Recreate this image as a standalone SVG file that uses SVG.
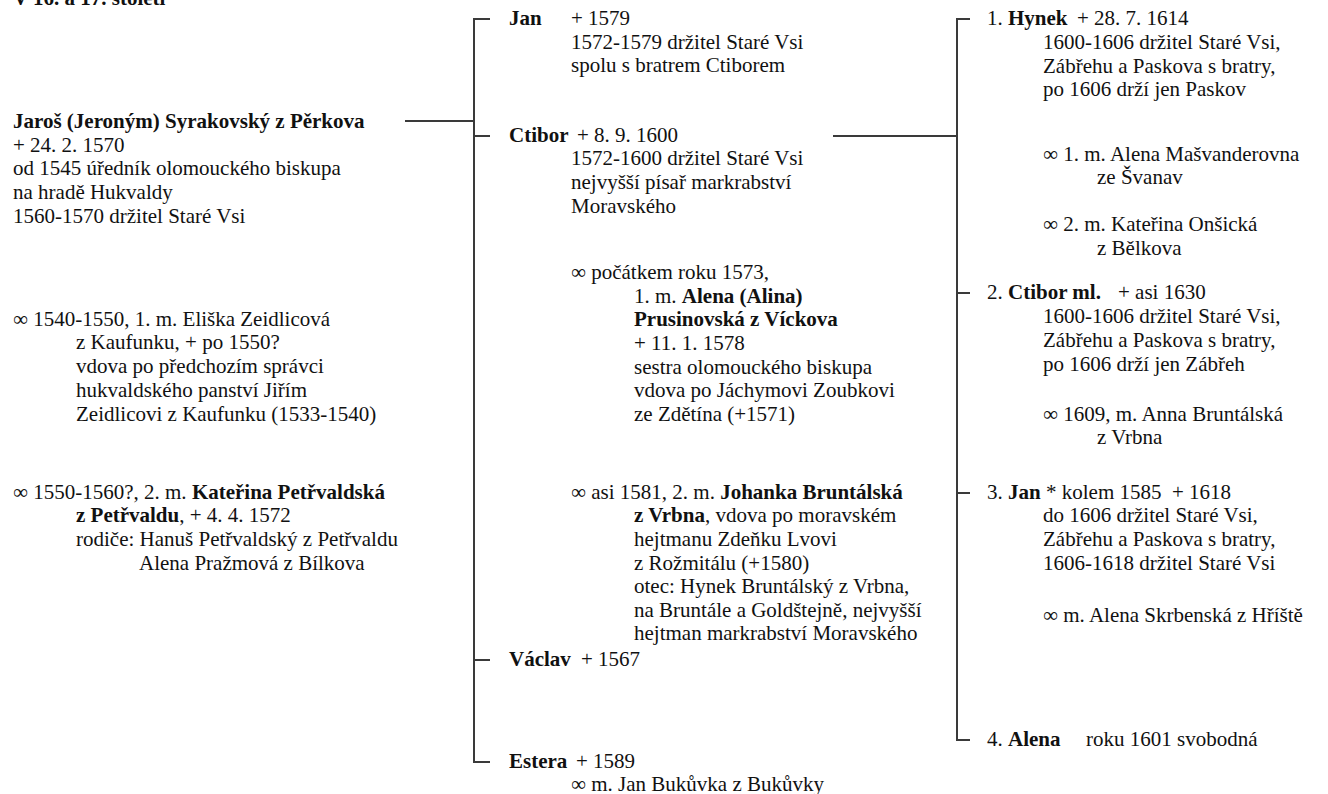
<svg xmlns="http://www.w3.org/2000/svg" width="1328" height="794" viewBox="0 0 1328 794">
<style>
text{font-family:"Liberation Serif","Times New Roman",serif;font-size:21px;fill:#111;}
.b{font-weight:bold;}
.ln{stroke:#3a3a3a;stroke-width:2;fill:none;}
</style>
<rect width="1328" height="794" fill="#fff"/>
<g id="title"><text x="13" y="5" class="b">V 16. a 17. století</text></g>

<g id="connectors">
<path class="ln" d="M405,121 H474"/>
<path class="ln" d="M490,19 H474 V762 H490"/>
<path class="ln" d="M474,136 H490"/>
<path class="ln" d="M474,660 H490"/>
<path class="ln" d="M833,136 H957"/>
<path class="ln" d="M970,19 H957 V740 H970"/>
<path class="ln" d="M957,293 H970"/>
<path class="ln" d="M957,493 H970"/>
</g>

<g id="jaros">
<text x="13" y="128" class="b">Jaroš (Jeroným) Syrakovský z Pěrkova</text>
<text x="13" y="152">+ 24. 2. 1570</text>
<text x="13" y="175">od 1545 úředník olomouckého biskupa</text>
<text x="13" y="199">na hradě Hukvaldy</text>
<text x="13" y="223">1560-1570 držitel Staré Vsi</text>
</g>
<g id="eliska">
<text x="13" y="326">∞ 1540-1550, 1. m. Eliška Zeidlicová</text>
<text x="76" y="349">z Kaufunku, + po 1550?</text>
<text x="76" y="373">vdova po předchozím správci</text>
<text x="76" y="397">hukvaldského panství Jiřím</text>
<text x="76" y="421">Zeidlicovi z Kaufunku (1533-1540)</text>
</g>
<g id="katerina">
<text x="13" y="499">∞ 1550-1560?, 2. m. <tspan class="b">Kateřina Petřvaldská</tspan></text>
<text x="76" y="522"><tspan class="b">z Petřvaldu</tspan>, + 4. 4. 1572</text>
<text x="76" y="546">rodiče: Hanuš Petřvaldský z Petřvaldu</text>
<text x="139" y="570">Alena Pražmová z Bílkova</text>
</g>

<g id="jan">
<text x="509" y="25" class="b">Jan</text>
<text x="571" y="25">+ 1579</text>
<text x="571" y="49">1572-1579 držitel Staré Vsi</text>
<text x="571" y="72">spolu s bratrem Ctiborem</text>
</g>
<g id="ctibor">
<text x="509" y="142" class="b">Ctibor</text>
<text x="577" y="142">+ 8. 9. 1600</text>
<text x="571" y="165">1572-1600 držitel Staré Vsi</text>
<text x="571" y="189">nejvyšší písař markrabství</text>
<text x="571" y="213">Moravského</text>
<text x="571" y="279">∞ počátkem roku 1573,</text>
<text x="634" y="303">1. m. <tspan class="b">Alena (Alina)</tspan></text>
<text x="634" y="326" class="b">Prusinovská z Víckova</text>
<text x="634" y="350">+ 11. 1. 1578</text>
<text x="634" y="374">sestra olomouckého biskupa</text>
<text x="634" y="397">vdova po Jáchymovi Zoubkovi</text>
<text x="634" y="421">ze Zdětína (+1571)</text>
<text x="571" y="499">∞ asi 1581, 2. m. <tspan class="b">Johanka Bruntálská</tspan></text>
<text x="634" y="522"><tspan class="b">z Vrbna</tspan>, vdova po moravském</text>
<text x="634" y="546">hejtmanu Zdeňku Lvovi</text>
<text x="634" y="570">z Rožmitálu (+1580)</text>
<text x="634" y="593">otec: Hynek Bruntálský z Vrbna,</text>
<text x="634" y="617">na Bruntále a Goldštejně, nejvyšší</text>
<text x="634" y="640">hejtman markrabství Moravského</text>
</g>
<g id="vaclav">
<text x="509" y="666" class="b">Václav</text>
<text x="581" y="666">+ 1567</text>
</g>
<g id="estera">
<text x="509" y="768" class="b">Estera</text>
<text x="576" y="768">+ 1589</text>
<text x="571" y="791">∞ m. Jan Bukůvka z Bukůvky</text>
</g>

<g id="hynek">
<text x="987" y="25">1. <tspan class="b">Hynek</tspan></text>
<text x="1077" y="25">+ 28. 7. 1614</text>
<text x="1043" y="49">1600-1606 držitel Staré Vsi,</text>
<text x="1043" y="73">Zábřehu a Paskova s bratry,</text>
<text x="1043" y="96">po 1606 drží jen Paskov</text>
<text x="1043" y="161">∞ 1. m. Alena Mašvanderovna</text>
<text x="1097" y="184">ze Švanav</text>
<text x="1043" y="231">∞ 2. m. Kateřina Onšická</text>
<text x="1097" y="255">z Bělkova</text>
</g>
<g id="ctibor-ml">
<text x="987" y="299">2. <tspan class="b">Ctibor ml.</tspan></text>
<text x="1118" y="299">+ asi 1630</text>
<text x="1043" y="323">1600-1606 držitel Staré Vsi,</text>
<text x="1043" y="347">Zábřehu a Paskova s bratry,</text>
<text x="1043" y="371">po 1606 drží jen Zábřeh</text>
<text x="1043" y="421">∞ 1609, m. Anna Bruntálská</text>
<text x="1097" y="444">z Vrbna</text>
</g>
<g id="jan-ml">
<text x="987" y="499">3. <tspan class="b">Jan</tspan></text>
<text x="1046" y="499">* kolem 1585</text>
<text x="1172" y="499">+ 1618</text>
<text x="1043" y="522">do 1606 držitel Staré Vsi,</text>
<text x="1043" y="546">Zábřehu a Paskova s bratry,</text>
<text x="1043" y="570">1606-1618 držitel Staré Vsi</text>
<text x="1043" y="622">∞ m. Alena Skrbenská z Hříště</text>
</g>
<g id="alena">
<text x="987" y="746">4. <tspan class="b">Alena</tspan></text>
<text x="1086" y="746">roku 1601 svobodná</text>
</g>
</svg>
